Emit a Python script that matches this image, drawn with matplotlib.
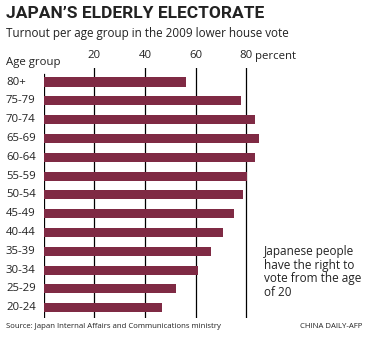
import matplotlib
matplotlib.use('Agg')
import matplotlib.pyplot as plt
from matplotlib.transforms import blended_transform_factory

# turnout (%) per age group, 2009 lower house election
age_groups = ['80+', '75-79', '70-74', '65-69', '60-64', '55-59', '50-54',
              '45-49', '40-44', '35-39', '30-34', '25-29', '20-24']
turnout = [56.2, 77.8, 83.4, 85.0, 83.4, 80.2, 78.8,
           75.0, 70.7, 66.2, 61.1, 52.1, 46.7]
grid_ticks = [20, 40, 60, 80]

W, H = 367, 338
bar_color = '#7f2a44'
font = ['Open Sans', 'DejaVu Sans']
plt.rcParams['font.family'] = font

fig = plt.figure(figsize=(W / 100, H / 100), dpi=100)
fig.patch.set_facecolor('white')

# axes placed in pixel terms: x=0 at 43.5px, 2.535px per percent
ax_left, ax_width = 43.5, 90 * 2.535
ax_top, ax_bottom = 68, 318
ax = fig.add_axes([ax_left / W, 1 - ax_bottom / H, ax_width / W, (ax_bottom - ax_top) / H])
ax.set_xlim(0, 90)
ypos = list(range(len(age_groups)))
ax.set_ylim(12.55, -0.745)

for t in grid_ticks:
    ax.axvline(t, color='black', lw=0.9, zorder=1)
ax.axvline(0, ymin=0, ymax=0.975, color='black', lw=0.9, zorder=1)
ax.barh(ypos, turnout, height=0.48, color=bar_color, zorder=2)

for s in ax.spines.values():
    s.set_visible(False)
ax.set_xticks([])
ax.set_yticks([])

# age labels
tr_y = blended_transform_factory(fig.transFigure, ax.transData)
for y, lab in zip(ypos, age_groups):
    fig.text(6 / W, y, lab, transform=tr_y, ha='left', va='center',
             fontsize=8.2, color='#222222')

# top tick labels
tr_x = blended_transform_factory(ax.transData, fig.transFigure)
for t in grid_ticks:
    fig.text(t, 1 - 56 / H, f'{t}', transform=tr_x, ha='center', va='center',
             fontsize=8.2, color='#222222')
fig.text(83.4, 1 - 56 / H, 'percent', transform=tr_x, ha='left', va='center',
         fontsize=8.2, color='#222222')
fig.text(6 / W, 1 - 62 / H, 'Age group', ha='left', va='center',
         fontsize=8.2, color='#222222')

# titles
fig.text(6 / W, 1 - 13 / H, 'JAPAN\u2019S ELDERLY ELECTORATE', ha='left', va='center',
         fontsize=12.5, fontweight='bold',
         family=['Liberation Sans Narrow', 'Roboto', 'DejaVu Sans'], color='#222222')
fig.text(6 / W, 1 - 33 / H, 'Turnout per age group in the 2009 lower house vote',
         ha='left', va='center', fontsize=8.4, color='#222222')

# note
fig.text(264 / W, 1 - 245 / H, 'Japanese people\nhave the right to\nvote from the age\nof 20',
         ha='left', va='top', fontsize=8.5, linespacing=1.05, color='#222222')

# footer
fig.text(6 / W, 1 - 327 / H, 'Source: Japan Internal Affairs and Communications ministry',
         ha='left', va='center', fontsize=5.6, color='#222222')
fig.text(362 / W, 1 - 327 / H, 'CHINA DAILY-AFP', ha='right', va='center',
         fontsize=5.6, color='#222222')

fig.savefig('out.png', dpi=100, facecolor='white')
